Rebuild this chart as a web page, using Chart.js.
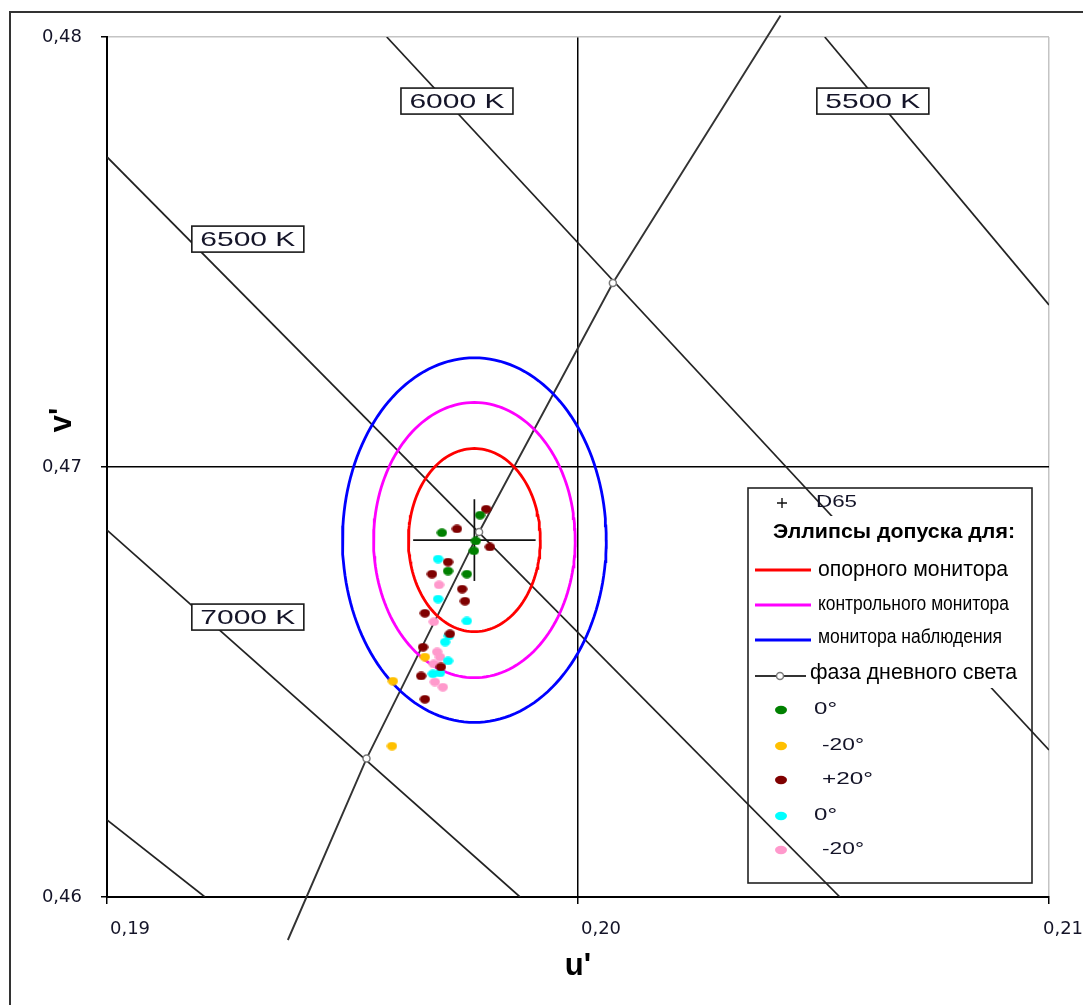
<!DOCTYPE html>
<html>
<head>
<meta charset="utf-8">
<title>u'v' – эллипсы допуска</title>
<script src="https://cdn.jsdelivr.net/npm/chart.js@4.4.1/dist/chart.umd.min.js"></script>
<style>
  html, body { margin: 0; padding: 0; background: #fff; overflow: hidden; }
  #wrap { width: 1083px; height: 1005px; }
</style>
</head>
<body>
<div id="wrap"><canvas id="c" width="1083" height="1005"></canvas></div>
<script>
// ---- axes ----
const uTicks = [0.19, 0.20, 0.21];
const vTicks = [0.46, 0.47, 0.48];

// ---- isotemperature lines, each [u1, v1, u2, v2] ----
const isoLines = [
  [0.19,    0.46179, 0.19208, 0.46],
  [0.19,    0.46853, 0.19877, 0.46],
  [0.19,    0.47721, 0.20556, 0.46],
  [0.19594, 0.48,    0.21,    0.46342],
  [0.20524, 0.48,    0.21,    0.47377]
];
const isoLabels = ['7000 K', '6500 K', '6000 K', '5500 K'];
const isoLabelU = [0.19299, 0.19299, 0.19743, 0.20626];
const isoLabelV = [0.46651, 0.47530, 0.47851, 0.47851];

// ---- daylight locus ----
const locusU = [0.19384, 0.19551, 0.19790, 0.20074, 0.20430];
const locusV = [0.45900, 0.46322, 0.46849, 0.47428, 0.48050];
const locusMarker = [0, 1, 1, 1, 0];

// ---- D65 white point and its cross ----
const d65 = [0.1978, 0.4683];
const d65Arm = [0.0013, 0.00095];

// ---- tolerance ellipses (semi-axes along u' and v') ----
const ellipseNames = ['опорного монитора', 'контрольного монитора', 'монитора наблюдения'];
const ellipseColors = ['#ff0000', '#ff00ff', '#0000ff'];
const ellipseA = [0.00140, 0.00214, 0.00280];
const ellipseB = [0.00213, 0.00320, 0.00424];

// ---- measured points ----
const groupNames  = ['0°', '-20°', '+20°', '0°', '-20°'];
const groupColors = ['#008000', '#ffc000', '#7f0000', '#00ffff', '#ff99cc'];

const g0U = [0.19792, 0.19711, 0.19783, 0.19779, 0.19724, 0.19764];
const g0V = [0.46888, 0.46847, 0.46828, 0.46805, 0.46758, 0.46751];

const gm20U = [0.19675, 0.19607, 0.19605];
const gm20V = [0.46558, 0.46502, 0.46351];

const gp20U = [0.19805, 0.19743, 0.19813, 0.19724, 0.19690, 0.19754, 0.19760,
               0.19675, 0.19728, 0.19671, 0.19709, 0.19667, 0.19675];
const gp20V = [0.46902, 0.46856, 0.46814, 0.46779, 0.46751, 0.46716, 0.46688,
               0.46660, 0.46612, 0.46581, 0.46535, 0.46514, 0.46460];

const c0U = [0.19703, 0.19703, 0.19764, 0.19726, 0.19718, 0.19724, 0.19692, 0.19707];
const c0V = [0.46786, 0.46693, 0.46642, 0.46607, 0.46593, 0.46549, 0.46519, 0.46521];

const cm20U = [0.19705, 0.19694, 0.19701, 0.19707, 0.19694, 0.19696, 0.19713];
const cm20V = [0.46726, 0.46640, 0.46570, 0.46558, 0.46542, 0.46500, 0.46488];

const groupsU = [g0U, gm20U, gp20U, c0U, cm20U];
const groupsV = [g0V, gm20V, gp20V, c0V, cm20V];

// ---- helpers ----
const fmt = v => v.toFixed(2).replace('.', ',');
const zip = (us, vs) => us.map((u, i) => ({ x: u, y: vs[i] }));

function ellipsePoints(cu, cv, a, b, n) {
  const pts = [];
  for (let i = 0; i <= n; i++) {
    const t = (i / n) * 2 * Math.PI;
    pts.push({ x: cu + a * Math.cos(t), y: cv + b * Math.sin(t) });
  }
  return pts;
}

function dotImage(color, w, h) {
  const c = document.createElement('canvas');
  c.width = w; c.height = h;
  const g = c.getContext('2d');
  g.fillStyle = color;
  g.beginPath();
  g.ellipse(w / 2, h / 2, w / 2 - 0.3, h / 2 - 0.3, 0, 0, Math.PI * 2);
  g.fill();
  return c;
}

// text squeezed or stretched to a given width
function fitText(ctx, text, x, y, font, width, align, color) {
  ctx.save();
  ctx.font = font;
  ctx.fillStyle = color || '#111';
  ctx.textBaseline = 'middle';
  ctx.textAlign = 'left';
  const m = ctx.measureText(text).width;
  const sx = width / m;
  let x0 = x;
  if (align === 'center') x0 = x - width / 2;
  else if (align === 'right') x0 = x - width;
  ctx.translate(x0, y);
  ctx.scale(sx, 1);
  ctx.fillText(text, 0, 0);
  ctx.restore();
}

// ---- datasets ----
const datasets = [];

groupsU.forEach((us, i) => {
  datasets.push({
    label: groupNames[i],
    data: zip(us, groupsV[i]),
    pointStyle: dotImage(groupColors[i], 11, 9),
    pointRadius: 5.5,
    showLine: false,
    order: 0
  });
});

datasets.push({
  label: 'D65',
  data: [{ x: d65[0] - d65Arm[0], y: d65[1] }, { x: d65[0] + d65Arm[0], y: d65[1] }],
  showLine: true, pointRadius: 0, borderColor: '#111', borderWidth: 1.7, order: 1
});
datasets.push({
  label: 'D65 v',
  data: [{ x: d65[0], y: d65[1] - d65Arm[1] }, { x: d65[0], y: d65[1] + d65Arm[1] }],
  showLine: true, pointRadius: 0, borderColor: '#111', borderWidth: 1.7, order: 1
});

ellipseA.forEach((a, i) => {
  datasets.push({
    label: ellipseNames[i],
    data: ellipsePoints(d65[0], d65[1], a, ellipseB[i], 160),
    showLine: true, pointRadius: 0, borderColor: ellipseColors[i], borderWidth: 2.8,
    tension: 0, order: 2
  });
});

datasets.push({
  label: 'фаза дневного света',
  data: zip(locusU, locusV),
  showLine: true,
  borderColor: '#333', borderWidth: 1.9,
  pointRadius: locusMarker.map(m => m ? 3.5 : 0),
  pointBackgroundColor: '#fff', pointBorderColor: '#7a7a7a', pointBorderWidth: 1.5,
  clip: false, order: 3
});

isoLines.forEach((l, i) => {
  datasets.push({
    label: 'iso' + i,
    data: [{ x: l[0], y: l[1] }, { x: l[2], y: l[3] }],
    showLine: true, pointRadius: 0, borderColor: '#222', borderWidth: 1.7, order: 4
  });
});

// ---- drawing extras ----
const framePlugin = {
  id: 'frame',
  beforeDraw(chart) {
    const ctx = chart.ctx;
    ctx.save();
    ctx.fillStyle = '#fff';
    ctx.fillRect(0, 0, chart.width, chart.height);
    ctx.strokeStyle = '#333';
    ctx.lineWidth = 2;
    ctx.strokeRect(10, 12, 1200, 1200);
    ctx.restore();
  }
};

const overlayPlugin = {
  id: 'overlay',
  afterDatasetsDraw(chart) {
    const ctx = chart.ctx;
    const xs = chart.scales.x, ys = chart.scales.y;

    // temperature labels
    isoLabels.forEach((t, i) => {
      const px = xs.getPixelForValue(isoLabelU[i]);
      const py = ys.getPixelForValue(isoLabelV[i]);
      ctx.save();
      ctx.fillStyle = '#fff';
      ctx.fillRect(px - 56, py - 13, 112, 26);
      ctx.strokeStyle = '#1a1a1a';
      ctx.lineWidth = 1.6;
      ctx.strokeRect(px - 56, py - 13, 112, 26);
      ctx.restore();
      fitText(ctx, t, px, py + 1, '21px "Liberation Sans", Arial, sans-serif', 95, 'center', '#141428');
    });

    // legend
    ctx.save();
    ctx.fillStyle = '#fff';
    ctx.fillRect(749, 516, 282, 172);
    ctx.strokeStyle = '#222';
    ctx.lineWidth = 1.6;
    ctx.strokeRect(748, 488, 284, 395);

    // D65 cross symbol
    ctx.strokeStyle = '#111';
    ctx.lineWidth = 1.4;
    ctx.beginPath();
    ctx.moveTo(777, 503); ctx.lineTo(787, 503);
    ctx.moveTo(782, 498); ctx.lineTo(782, 508);
    ctx.stroke();
    ctx.restore();
    fitText(ctx, 'D65', 816, 503, '16px "Liberation Sans", Arial, sans-serif', 41, 'left', '#141428');
    fitText(ctx, 'Эллипсы допуска для:', 773, 532, 'bold 21px "Liberation Sans", Arial, sans-serif', 242, 'left', '#000');

    const ellRows = [570, 605, 640];
    const ellText = [[570, '22px', 190], [604, '20px', 191], [637, '20px', 184]];
    ellRows.forEach((y, i) => {
      ctx.save();
      ctx.strokeStyle = ellipseColors[i];
      ctx.lineWidth = 3;
      ctx.beginPath();
      ctx.moveTo(755, y); ctx.lineTo(811, y);
      ctx.stroke();
      ctx.restore();
      fitText(ctx, ellipseNames[i], 818, ellText[i][0], ellText[i][1] + ' "Liberation Sans", Arial, sans-serif', ellText[i][2], 'left', '#000');
    });

    // daylight locus symbol
    ctx.save();
    ctx.strokeStyle = '#333';
    ctx.lineWidth = 1.9;
    ctx.beginPath();
    ctx.moveTo(755, 676); ctx.lineTo(806, 676);
    ctx.stroke();
    ctx.fillStyle = '#fff';
    ctx.strokeStyle = '#7a7a7a';
    ctx.lineWidth = 1.5;
    ctx.beginPath();
    ctx.arc(780, 676, 3.5, 0, Math.PI * 2);
    ctx.fill(); ctx.stroke();
    ctx.restore();
    fitText(ctx, 'фаза дневного света', 810, 673, '22px "Liberation Sans", Arial, sans-serif', 207, 'left', '#000');

    // point groups
    const rowY = [710, 746, 780, 816, 850];
    const labX = [814, 822, 822, 814, 822];
    const labW = [23, 42, 51, 23, 42];
    groupNames.forEach((n, i) => {
      ctx.save();
      ctx.fillStyle = groupColors[i];
      ctx.beginPath();
      ctx.ellipse(781, rowY[i], 6, 4.2, 0, 0, Math.PI * 2);
      ctx.fill();
      ctx.restore();
      fitText(ctx, n, labX[i], rowY[i] - 1, '17px "Liberation Sans", Arial, sans-serif', labW[i], 'left', '#141428');
    });
  },
  afterDraw(chart) {
    const ctx = chart.ctx;
    const a = chart.chartArea;
    ctx.save();
    ctx.fillStyle = '#000';
    ctx.font = 'bold 31px "Liberation Sans", Arial, sans-serif';
    ctx.textAlign = 'center';
    ctx.textBaseline = 'middle';
    ctx.fillText("u'", (a.left + a.right) / 2, 966);
    ctx.translate(62, 420);
    ctx.rotate(-Math.PI / 2);
    ctx.fillText("v'", 0, 0);
    ctx.restore();
  }
};

const tickFont = { family: '"DejaVu Sans", Verdana, sans-serif', size: 18 };

// the last u' label sits flush with the right edge, so it is padded on the right
const uLabel = v => v === uTicks[uTicks.length - 1] ? fmt(v) + '\u2002\u2002' : fmt(v);

new Chart(document.getElementById('c'), {
  type: 'scatter',
  data: { datasets },
  options: {
    responsive: false,
    animation: false,
    events: [],
    layout: { padding: { left: 0, top: 37, right: 34, bottom: 0 } },
    plugins: { legend: { display: false }, tooltip: { enabled: false }, title: { display: false } },
    scales: {
      x: {
        type: 'linear', min: 0.19, max: 0.21,
        afterBuildTicks: s => { s.ticks = uTicks.map(v => ({ value: v })); },
        afterFit: s => { s.height = 108; s.paddingLeft = 0; s.paddingRight = 0; },
        ticks: { callback: v => uLabel(v), font: tickFont, color: '#141428', padding: 15,
                 labelOffset: 23, maxRotation: 0, autoSkip: false },
        grid: {
          color: c => (c.tick && c.tick.value === 0.21) ? '#c4c4c4' : '#000',
          lineWidth: c => (c.tick && c.tick.value === 0.21) ? 1.5 : 1.5,
          tickColor: '#000', tickLength: 7, tickWidth: 1.5
        },
        border: { color: '#000', width: 2 }
      },
      y: {
        type: 'linear', min: 0.46, max: 0.48,
        afterBuildTicks: s => { s.ticks = vTicks.map(v => ({ value: v })); },
        afterFit: s => { s.width = 107; s.paddingTop = 0; s.paddingBottom = 0; },
        ticks: { callback: v => fmt(v), font: tickFont, color: '#141428', padding: 19, autoSkip: false },
        grid: {
          color: c => (c.tick && c.tick.value === 0.48) ? '#c4c4c4' : '#000',
          lineWidth: c => (c.tick && c.tick.value === 0.48) ? 1.5 : 1.5,
          tickColor: '#000', tickLength: 6, tickWidth: 1.5
        },
        border: { color: '#000', width: 2 }
      }
    }
  },
  plugins: [framePlugin, overlayPlugin]
});
</script>
</body>
</html>
